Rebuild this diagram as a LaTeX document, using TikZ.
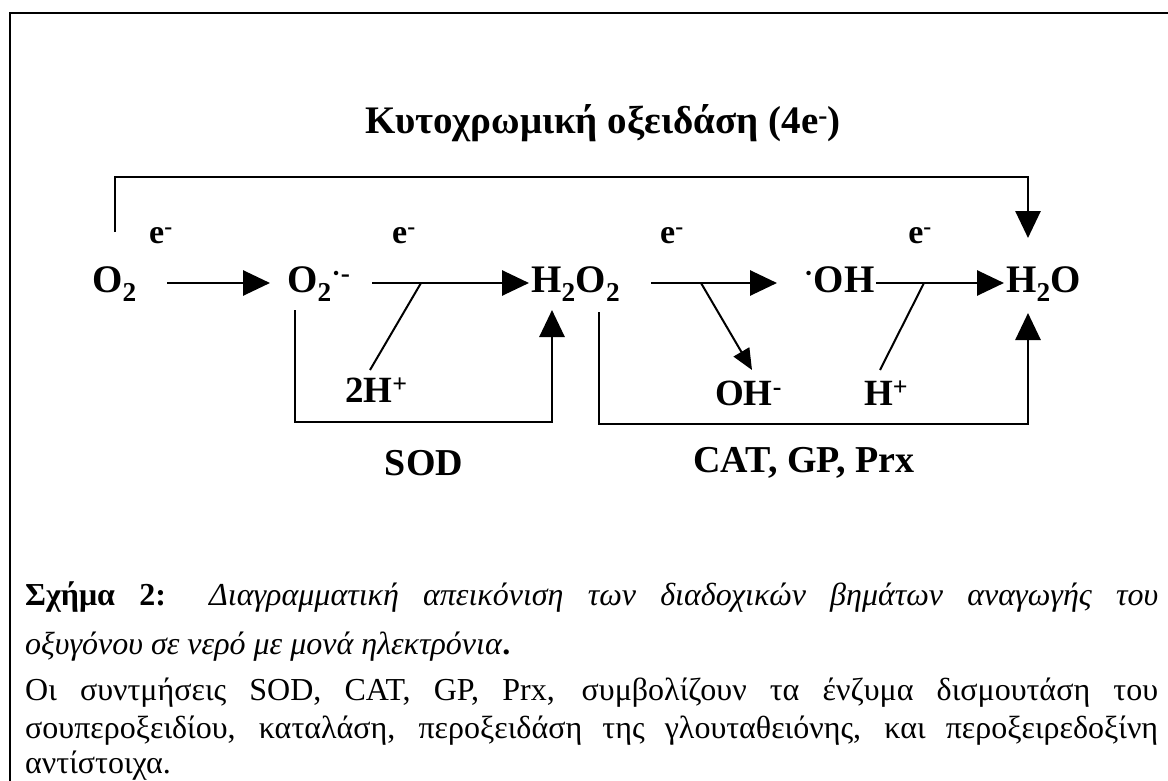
\documentclass[tikz,border=0pt]{standalone}
\usepackage{fontspec}
\setmainfont{Liberation Serif}
\usetikzlibrary{arrows.meta,calc}

\begin{document}
\begin{tikzpicture}[x=1pt,y=-1pt,
  every node/.style={inner sep=0pt},
  species/.style={anchor=west,font=\bfseries\fontsize{39}{41}\selectfont,
    text height=24pt,text depth=6pt},
  ion/.style={anchor=west,font=\bfseries\fontsize{37}{39}\selectfont,
    text height=24pt,text depth=6pt},
  elec/.style={font=\bfseries\fontsize{34}{36}\selectfont},
  enzyme/.style={font=\bfseries\fontsize{38}{40}\selectfont},
  heading/.style={font=\bfseries\fontsize{39}{42}\selectfont},
  caption/.style={anchor=base west,font=\fontsize{32}{36}\selectfont},
  rail/.style={line width=2.8pt},
  slant/.style={line width=2pt},
  bigtip/.style={-{Triangle[length=27pt,width=25pt]}},
  smalltip/.style={-{Triangle[length=21pt,width=18pt]}},
]
\useasboundingbox (0,0) rectangle (1168,781);

% frame (left and top edges)
\draw[rail] (10,781) -- (10,13) -- (1168,13);

% heading
\node[heading] (title) at (603,123) {Κυτοχρωμική οξειδάση (4e\textsuperscript{-})};

% main reaction row
\node[species] (o2)  at (92,283)   {O\textsubscript{2}};
\node[species] (sup) at (287,283)  {O\textsubscript{2}\textsuperscript{·-}};
\node[species] (hoo) at (531,283)  {H\textsubscript{2}O\textsubscript{2}};
\node[species] (oh)  at (804,283)  {\textsuperscript{·}OH};
\node[species] (h2o) at (1006,283) {H\textsubscript{2}O};

% electrons
\node[elec] (e1) at (161,236) {e\textsuperscript{-}};
\node[elec] (e2) at (404,236) {e\textsuperscript{-}};
\node[elec] (e3) at (672,236) {e\textsuperscript{-}};
\node[elec] (e4) at (920,236) {e\textsuperscript{-}};

% single-electron steps
\draw[rail,bigtip,shorten <=75pt,shorten >=17pt] (o2.west) -- (sup.west);
\draw[rail,bigtip,shorten <=85pt,shorten >=2pt]  (sup.west) -- (hoo.west);
\draw[rail,bigtip,shorten <=120pt,shorten >=27pt] (hoo.west) -- (oh.west);
\draw[rail,bigtip,shorten <=72pt,shorten >=2pt]  (oh.west) -- (h2o.west);

% cytochrome oxidase bypass (4e-)
\coordinate (topL) at ($(o2.west)+(23,-51)$);
\coordinate (topR) at ($(h2o.west)+(22,-45)$);
\coordinate (topbar) at (0,177);
\draw[rail,bigtip] (topL) -- (topL |- topbar) -| (topR);

% side species
\node[ion] (h2p) at (345,393) {2H\textsuperscript{+}};
\node[ion] (ohm) at (715,396) {OH\textsuperscript{-}};
\node[ion] (hp)  at (864,396) {H\textsuperscript{+}};

\coordinate (j1) at ($(hoo.west)+(-110,0)$);
\coordinate (j2) at ($(hoo.west)+(170,0)$);
\coordinate (j3) at ($(oh.west)+(120,0)$);
\draw[slant] ($(h2p.west)+(25,-23)$) -- (j1);
\draw[slant,smalltip] (j2) -- ($(ohm.west)+(37,-26)$);
\draw[slant] ($(hp.west)+(16,-26)$) -- (j3);

% SOD bracket
\coordinate (sodL) at ($(sup.west)+(8,27)$);
\coordinate (sodR) at ($(hoo.west)+(21,27)$);
\coordinate (sodbase) at (0,422);
\draw[rail,bigtip] (sodL) -- (sodL |- sodbase) -| (sodR);

% CAT, GP, Prx bracket
\coordinate (catL) at ($(hoo.west)+(68,29)$);
\coordinate (catR) at ($(h2o.west)+(22,30)$);
\coordinate (catbase) at (0,424);
\draw[rail,bigtip] (catL) -- (catL |- catbase) -| (catR);

% enzyme labels
\node[enzyme] (sod) at (424,463) {SOD};
\node[enzyme] (cat) at (804,463) {CAT, GP, Prx};

% caption
\node[caption] (c1) at (25,605) {\makebox[1133pt][s]{\textbf{Σχήμα 2:} \textit{Διαγραμματική απεικόνιση των διαδοχικών βημάτων αναγωγής του}}};
\node[caption] (c2) at (25,654) {\textit{οξυγόνου σε νερό με μονά ηλεκτρόνια}\textbf{.}};
\node[caption] (c3) at (25,700) {\makebox[1133pt][s]{Οι συντμήσεις SOD, CAT, GP, Prx, συμβολίζουν τα ένζυμα δισμουτάση του}};
\node[caption] (c4) at (25,738) {\makebox[1133pt][s]{σουπεροξειδίου, καταλάση, περοξειδάση της γλουταθειόνης, και περοξειρεδοξίνη}};
\node[caption] (c5) at (25,773) {αντίστοιχα.};
\end{tikzpicture}
\end{document}
